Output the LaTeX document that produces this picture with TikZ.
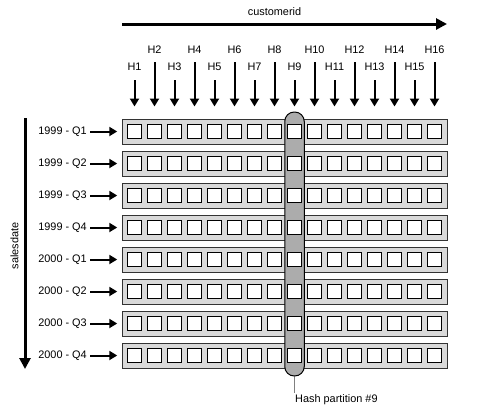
\documentclass[tikz,border=0pt]{standalone}
\usepackage{fontspec}
\setmainfont{Liberation Sans}
\usetikzlibrary{arrows.meta}

\begin{document}
\begin{tikzpicture}[x=1pt, y=-1pt, font=\fontsize{10.9}{12}\selectfont,
    row/.style={draw=black!80, line width=1pt, fill=gray!30, minimum width=325pt, minimum height=25pt, inner sep=0pt},
    cell/.style={draw=black, line width=1pt, fill=white, minimum size=14.5pt, inner sep=0pt},
    hashcol/.style={draw=black, line width=1pt, fill=gray!65, rounded corners=9.5pt, minimum width=19.5pt, minimum height=264pt, inner sep=0pt},
    bigarrow/.style={line width=3pt, -{Triangle[length=11pt,width=11pt]}},
    smallarrow/.style={line width=2pt, -{Triangle[length=8pt,width=9pt]}}]

      \useasboundingbox (0,0) rectangle (496,416);

      % the rows (one per quarter)
      \foreach \r in {1,...,8}
        \node[row] (row\r) at (284.75,{131.5+32*(\r-1)}) {};

      % hash partition #9
      \node[hashcol] (hcol) at (294.5,244) {};

      % the cells
      \foreach \r in {1,...,8}
        \foreach \c in {1,...,16}
          \node[cell] (s\r-\c) at ({134.5+20*(\c-1)},{131.5+32*(\r-1)}) {};

      % quarter labels
      \foreach \r/\lab in {1/1999 - Q1, 2/1999 - Q2, 3/1999 - Q3, 4/1999 - Q4,
                           5/2000 - Q1, 6/2000 - Q2, 7/2000 - Q3, 8/2000 - Q4} {
        \node[anchor=east, inner sep=0pt] (lab\r) at (87,{131.5+32*(\r-1)}) {\lab};
        \draw[smallarrow] ([xshift=3pt]lab\r.east) -- ([xshift=-4.5pt]row\r.west);
      }

      % hash values
      \foreach \c in {1,3,...,15} {
        \node (h\c) at ({134.5+20*(\c-1)},67) {H\c};
        \coordinate (ht\c) at ({134.5+20*(\c-1)},80);
        \coordinate (hb\c) at ({134.5+20*(\c-1)},106.5);
        \draw[smallarrow] (ht\c) -- (hb\c);
      }
      \foreach \c in {2,4,...,16} {
        \node (h\c) at ({134.5+20*(\c-1)},50) {H\c};
        \coordinate (ht\c) at ({134.5+20*(\c-1)},62);
        \coordinate (hb\c) at ({134.5+20*(\c-1)},106.5);
        \draw[smallarrow] (ht\c) -- (hb\c);
      }

      % customerid axis
      \node (cid) at (274.5,12) {customerid};
      \coordinate (cs) at (122,24);
      \coordinate (ce) at (447,24);
      \draw[bigarrow] (cs) -- (ce);

      % salesdate axis
      \node[rotate=90] (sd) at (14.5,246) {salesdate};
      \coordinate (ss) at (25,118);
      \coordinate (se) at (25,369);
      \draw[bigarrow] (ss) -- (se);

      % hash partition label
      \node[anchor=north west, inner sep=1pt] (hp) at (294,393) {Hash partition \#9};
      \draw[gray, line width=0.6pt] (hcol.south) -- (hcol.south |- hp.north);
    \end{tikzpicture}
\end{document}
